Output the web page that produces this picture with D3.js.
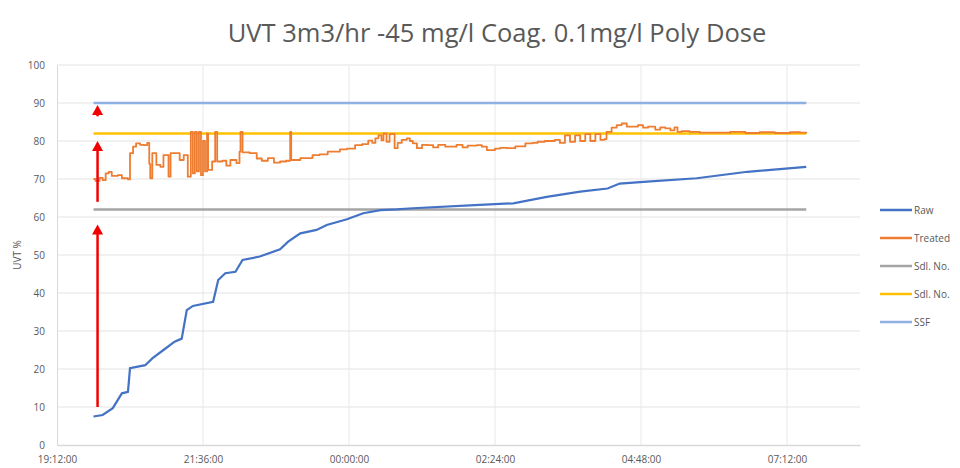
<!DOCTYPE html>
<html><head><meta charset="utf-8">
<script src="https://cdn.jsdelivr.net/npm/d3@7"></script>
<style>
body{margin:0;background:#fff;}
text{font-family:"Open Sans","Liberation Sans",sans-serif;fill:#595959;}
</style></head>
<body><svg id="chart" width="960" height="468"></svg>
<script>
const title = "UVT 3m3/hr -45 mg/l Coag. 0.1mg/l Poly Dose";
const yTitle = "UVT %";
const xTickLabels = ["19:12:00","21:36:00","00:00:00","02:24:00","04:48:00","07:12:00"];
const yTicks = [0,10,20,30,40,50,60,70,80,90,100];
const seriesNames = ["Raw","Treated","Sdl. No.","Sdl. No.","SSF"];
const seriesColors = ["#4472C4","#ED7D31","#A5A5A5","#FFC000","#8FB0E3"];

const rawTimes = ["19:48","19:57","20:07","20:16","20:22","20:24","20:39","20:46","20:57","21:08","21:15","21:20","21:26","21:46","21:51","21:58","22:08","22:15","22:32","22:52","23:00","23:12","23:28","23:38","23:58","00:14","00:31","00:47","01:03","02:09","02:42","03:15","03:48","04:15","04:27","04:54","05:43","06:33","07:31"];
const rawValues = [7.5,7.9,9.7,13.6,14,20.2,21,22.8,25,27.2,28,35.5,36.6,37.7,43.4,45.2,45.6,48.7,49.6,51.5,53.5,55.7,56.6,57.9,59.4,61,61.8,62,62.3,63.2,63.6,65.3,66.7,67.5,68.8,69.3,70.2,71.9,73.2];

const treatedTimes = ["19:48","19:50","19:54","19:57","20:00","20:03","20:06","20:12","20:16","20:22","20:24","20:27","20:30","20:34","20:38","20:41","20:43","20:44","20:46","20:49","20:50","20:54","20:57","21:00","21:02","21:04","21:09","21:13","21:17","21:20","21:21","21:24","21:26","21:28","21:30","21:32","21:34","21:36","21:38","21:40","21:41","21:45","21:48","21:50","21:55","21:59","22:03","22:09","22:12","22:13","22:15","22:22","22:29","22:34","22:40","22:46","22:52","22:58","23:02","23:03","23:12","23:24","23:31","23:39","23:51","23:58","00:06","00:13","00:19","00:23","00:26","00:29","00:32","00:34","00:37","00:40","00:45","00:48","00:52","00:57","01:00","01:03","01:07","01:12","01:17","01:23","01:28","01:35","01:40","01:46","01:52","01:57","02:06","02:11","02:16","02:24","02:29","02:36","02:44","02:54","03:01","03:06","03:13","03:23","03:28","03:33","03:38","03:43","03:48","03:53","03:58","04:03","04:08","04:12","04:14","04:19","04:24","04:29","04:34","04:40","04:45","04:50","04:55","05:02","05:07","05:12","05:17","05:21","05:24","05:28","05:36","05:46","05:59","06:16","06:31","06:45","07:00","07:15","07:25","07:31"];
const treatedValues = [70,69.5,70.3,69.7,71.5,71.9,70.8,71,70.2,69.9,76.8,78.5,79.4,79,78.9,79.5,74,70.2,76.8,76.8,73.7,73.2,76.3,76.3,70.6,76.8,76.8,75,76.3,76.3,70.6,82.4,71.5,82.4,72,82.4,71,80,72,82,72.4,74.6,82.4,74.6,74.8,73.5,75,74.2,77.2,82.4,77,76.8,75.4,74.8,75.5,74.3,74.6,74.8,82.4,75,75.5,76.3,76.5,77.2,77.8,78,78.9,79.2,80.1,79.5,80.7,81.5,80.2,82,79.8,81.8,78.1,79.5,80.3,80.7,80,79.4,78.1,79,78.9,78.3,79,78.5,78.5,79,78.3,78.8,78.9,78.5,77.6,78,78.2,78.1,78.6,79.4,79.5,79.8,80,80.3,79.5,81.5,79.8,81.5,80,81.8,80,81.8,80.3,80.5,82.4,83.5,84.2,84.6,83.8,83.8,84.2,83.5,83.8,83,83.6,83.3,82.8,83.6,82.4,82.6,82.4,82.2,82.2,82.4,82.1,82.3,82.1,82.3,82.2,82];

const grayLevel = 62;
const yellowLevel = 82;
const ssfLevel = 90;

// red annotation arrows: [time, fromValue, toValue]
const arrowTime = "19:52";
const arrowFrom = [10, 64, 86.5];
const arrowTo = [58, 80, 89.5];

const startClock = "19:12";
const endClock = "08:24";

function toDate(s){
  const [h,m] = s.split(":").map(Number);
  const day = h < 12 ? 2 : 1;
  return new Date(2020,0,day,h,m);
}

const svg = d3.select("#chart");
const x = d3.scaleTime().domain([toDate(startClock), toDate(endClock)]).range([57, 860]);
const y = d3.scaleLinear().domain([0,100]).range([445, 65]);

// Title
svg.append("text").attr("x",497).attr("y",42).attr("text-anchor","middle")
  .style("font-size","25.5px").text(title);

// horizontal gridlines
svg.append("g").selectAll("line").data(yTicks.filter(d=>d>0)).join("line")
  .attr("x1",57).attr("x2",860).attr("y1",d=>y(d)).attr("y2",d=>y(d))
  .attr("stroke","#e3e3e3").attr("stroke-width",1);

// vertical gridlines
const xTickDates = xTickLabels.map(s=>toDate(s.slice(0,5)));
svg.append("g").selectAll("line").data(xTickDates.slice(1)).join("line")
  .attr("x1",d=>x(d)).attr("x2",d=>x(d)).attr("y1",65).attr("y2",445)
  .attr("stroke","#e8e8e8").attr("stroke-width",1);

// axes
const yAxis = svg.append("g").attr("transform","translate(57,0)")
  .call(d3.axisLeft(y).tickValues(yTicks).tickSize(0).tickPadding(12));
yAxis.select(".domain").attr("stroke","#d9d9d9");
yAxis.selectAll("text").style("font-size","10px").style("fill","#595959");

const xAxis = svg.append("g").attr("transform","translate(0,445)")
  .call(d3.axisBottom(x).tickValues(xTickDates).tickSize(0).tickPadding(11)
    .tickFormat((d,i)=>xTickLabels[i]));
xAxis.select(".domain").attr("stroke","#d9d9d9").attr("stroke-width",1.5);
xAxis.selectAll("text").style("font-size","10px").style("fill","#595959");

svg.append("text").attr("transform","translate(21,255) rotate(-90)")
  .attr("text-anchor","middle").style("font-size","10px").text(yTitle);

const line = d3.line().x(d=>x(d[0])).y(d=>y(d[1]));
const stepLine = d3.line().x(d=>x(d[0])).y(d=>y(d[1])).curve(d3.curveStepAfter);
const t0 = rawTimes[0], t1 = rawTimes[rawTimes.length-1];

const constSeries = [
  {name:2, level:grayLevel},
  {name:3, level:yellowLevel},
  {name:4, level:ssfLevel}
];
constSeries.forEach(s=>{
  svg.append("path").datum([[toDate(t0),s.level],[toDate(t1),s.level]])
    .attr("d",line).attr("fill","none").attr("stroke",seriesColors[s.name]).attr("stroke-width",2.5);
});

svg.append("path").datum(rawTimes.map((t,i)=>[toDate(t),rawValues[i]]))
  .attr("d",line).attr("fill","none").attr("stroke",seriesColors[0]).attr("stroke-width",2.2);

svg.append("path").datum(treatedTimes.map((t,i)=>[toDate(t),treatedValues[i]]))
  .attr("d",stepLine).attr("fill","none").attr("stroke",seriesColors[1]).attr("stroke-width",1.8)
  .attr("stroke-linejoin","round");

// arrows
const ax = x(toDate(arrowTime));
arrowFrom.forEach((f,i)=>{
  const yb = y(f), yt = y(arrowTo[i]);
  svg.append("line").attr("x1",ax).attr("x2",ax).attr("y1",yb).attr("y2",yt+8)
    .attr("stroke","#F00000").attr("stroke-width",2.5);
  svg.append("path").attr("d",`M${ax-5.5},${yt+10}L${ax},${yt}L${ax+5.5},${yt+10}Z`).attr("fill","#F00000");
});

// legend
const lg = svg.append("g");
seriesNames.forEach((n,i)=>{
  const ly = 210 + i*28;
  lg.append("line").attr("x1",880).attr("x2",912).attr("y1",ly).attr("y2",ly)
    .attr("stroke",seriesColors[i]).attr("stroke-width",2.5);
  lg.append("text").attr("x",914).attr("y",ly+3.5).style("font-size","10px").text(n);
});
</script></body></html>
